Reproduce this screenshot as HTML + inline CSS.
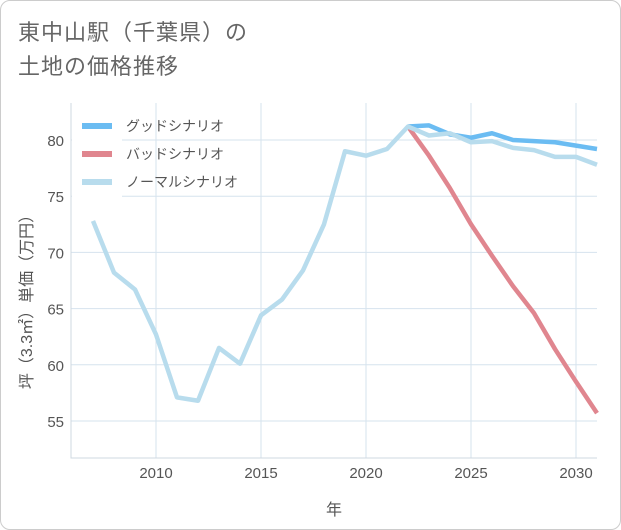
<!DOCTYPE html>
<html><head><meta charset="utf-8">
<style>
body{margin:0;background:#fff;font-family:"Liberation Sans","Noto Sans CJK JP",sans-serif;}
#card{position:absolute;left:0;top:0;width:619px;height:528px;border:1px solid #ccc;border-radius:10px;background:#fff;}
#title{position:absolute;left:18px;top:16px;font-size:22px;line-height:34px;color:#666;letter-spacing:1px;}
svg{position:absolute;left:0;top:0;}
</style></head><body>
<div id="card"></div>
<div id="title">東中山駅（千葉県）の<br>土地の価格推移</div>
<svg id="chart" width="621" height="530"></svg>
<script>
const normalYears=[2007,2008,2009,2010,2011,2012,2013,2014,2015,2016,2017,2018,2019,2020,2021,2022,2023,2024,2025,2026,2027,2028,2029,2030,2031];
const normalValues=[72.8,68.2,66.7,62.7,57.1,56.8,61.5,60.1,64.4,65.8,68.4,72.5,79.0,78.6,79.2,81.2,80.4,80.6,79.8,79.9,79.3,79.1,78.5,78.5,77.8];
const forecastYears=[2022,2023,2024,2025,2026,2027,2028,2029,2030,2031];
const goodValues=[81.2,81.3,80.5,80.2,80.6,80.0,79.9,79.8,79.5,79.2];
const badValues=[81.2,78.6,75.7,72.5,69.7,67.0,64.6,61.4,58.5,55.7];
const xTicks=[2010,2015,2020,2025,2030];
const yTicks=[55,60,65,70,75,80];
const legendLabels=["グッドシナリオ","バッドシナリオ","ノーマルシナリオ"];
const legendColors=["#6bbcf2","#e0868f","#b8dced"];

const NS="http://www.w3.org/2000/svg";
const svg=document.getElementById('chart');
const L=71,R=597,T=103,B=458;
const xs=y=>156+(y-2010)*21;
const ys=v=>140+(80-v)*11.24;
function mk(t,a){const e=document.createElementNS(NS,t);for(const k in a)e.setAttribute(k,a[k]);svg.appendChild(e);return e;}

for(const t of yTicks){
  const g=mk('line',{x1:L,x2:R,y1:ys(t),y2:ys(t),stroke:'#d6e3ee','stroke-width':1});
  
  
  const tx=mk('text',{x:64,y:ys(t)+6,'text-anchor':'end','font-size':15,fill:'#555'});
  tx.textContent=t;
  
  
}
const lb=mk('rect',{x:72,y:110,width:50,height:88,fill:'#fff'});


for(const t of xTicks){
  const g=mk('line',{x1:xs(t),x2:xs(t),y1:T,y2:B,stroke:'#d6e3ee','stroke-width':1});
  
  
  const tx=mk('text',{x:xs(t),y:478,'text-anchor':'middle','font-size':15,fill:'#555'});
  tx.textContent=t;
  
  
}
const ax=mk('path',{d:`M${L} ${T}V${B}H${R}`,stroke:'#cfd8e0',fill:'none'});



function line(xsArr,vals,color,name){
  const d=xsArr.map((y,i)=>(i?'L':'M')+xs(y)+' '+ys(vals[i])).join('');
  const p=mk('path',{d,stroke:color,'stroke-width':4.5,fill:'none','stroke-linejoin':'round'});
  
  
}
line(forecastYears,badValues,legendColors[1],'bad-scenario-line');
line(forecastYears,goodValues,legendColors[0],'good-scenario-line');
line(normalYears,normalValues,legendColors[2],'normal-scenario-line');

legendLabels.forEach((s,i)=>{
  const y=126+i*28;
  const r=mk('rect',{x:82,y:y-3,width:30,height:6,fill:legendColors[i]});
  
  
  const t=mk('text',{x:126,y:y+5,'font-size':14,fill:'#555'});
  t.textContent=s;
  
  
});
const xt=mk('text',{x:334,y:515,'text-anchor':'middle','font-size':16,fill:'#555'});
xt.textContent='年';


const yt=mk('text',{x:0,y:0,'text-anchor':'middle','font-size':16,fill:'#555',transform:'translate(32,298) rotate(-90)'});
yt.textContent='坪（3.3㎡）単価（万円）';


</script>
</body></html>
